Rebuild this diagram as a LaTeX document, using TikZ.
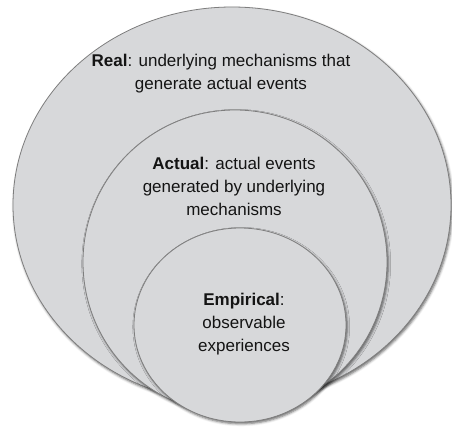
\documentclass[tikz,border=0pt]{standalone}
\usepackage{fontspec}
\setmainfont{Liberation Sans}
\usepackage{tikz}
\usetikzlibrary{shapes,shadows.blur}
\usepackage{xcolor}
\definecolor{ringfill}{HTML}{D7D8DA}
\definecolor{ringline}{HTML}{7E7E7E}
\definecolor{labeltext}{HTML}{141414}

\begin{document}
\begin{tikzpicture}[x=1pt,y=-1pt,line width=0.8pt,
  ring/.style={ellipse,draw=ringline,fill=ringfill,inner sep=0pt,
    blur shadow={shadow xshift=1.2pt,shadow yshift=-1.8pt,shadow blur radius=2.5pt,shadow opacity=60}},
  layer/.style={align=center,text=labeltext,inner sep=0pt,font=\fontsize{17}{23}\selectfont}]
  \useasboundingbox (0,0) rectangle (452,429);

  \node[ring,minimum width=438pt,minimum height=396pt] (real)      at (232,205) {};
  \node[ring,minimum width=304pt,minimum height=304pt] (actual)    at (235,262) {};
  \node[ring,minimum width=212pt,minimum height=194pt] (empirical) at (240,325) {};

  \node[layer] (realtext)      at (221,73.7)  {\textbf{Real}: underlying mechanisms that\\generate actual events};
  \node[layer] (actualtext)    at (234,186.9) {\textbf{Actual}: actual events\\generated by underlying\\mechanisms};
  \node[layer] (empiricaltext) at (244,324.2) {\textbf{Empirical}:\\observable\\experiences};
\end{tikzpicture}
\end{document}
